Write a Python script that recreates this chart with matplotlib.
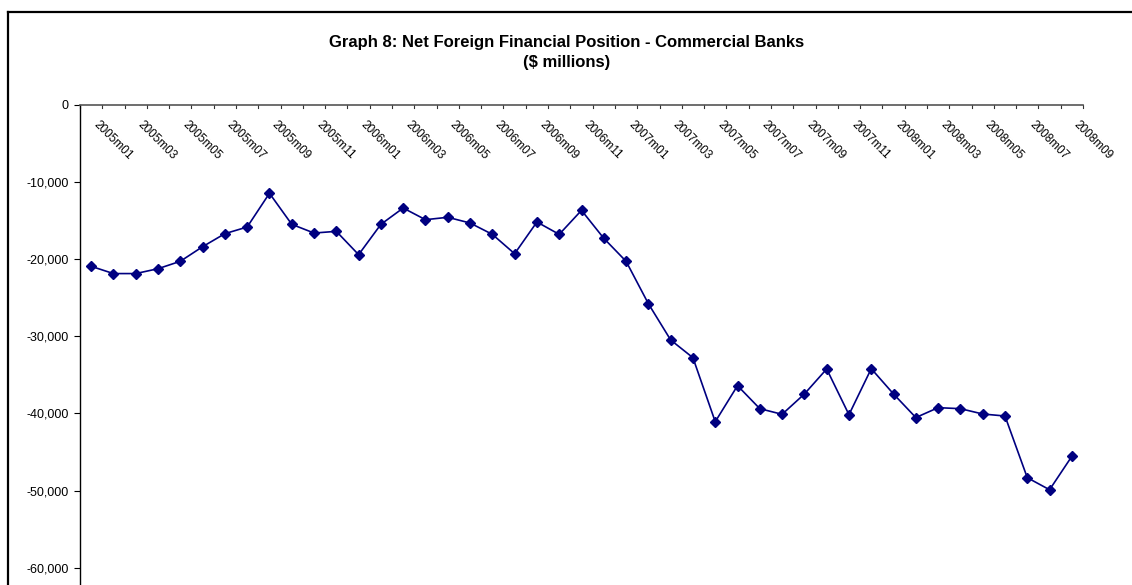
import matplotlib
matplotlib.use("Agg")
import matplotlib.pyplot as plt
from matplotlib.lines import Line2D
from matplotlib.ticker import FixedLocator, FuncFormatter

plt.rcParams['font.family'] = ['Liberation Sans', 'DejaVu Sans']

# monthly periods 2005m01 .. 2008m09
years = [2005, 2006, 2007, 2008]
months = [f"{y}m{m:02d}" for y in years for m in range(1, 13)][:45]

# net foreign financial position of commercial banks, $ millions
position = [
    -20960, -21900, -21900, -21270, -20310, -18420, -16730, -15870, -11500, -15520,
    -16650, -16430, -19450, -15520, -13410, -14920, -14610, -15350, -16820, -19330,
    -15220, -16820, -13710, -17330, -20310, -25800, -30500, -32800, -41090, -36420,
    -39400, -40130, -37500, -34260, -40180, -34220, -37500, -40550, -39270, -39400,
    -40090, -40350, -48340, -49900, -45570,
]
yticks = [0, -10000, -20000, -30000, -40000, -50000, -60000]

W, H = 1132, 585
fig = plt.figure(figsize=(W / 100, H / 100), dpi=100)

# outer chart frame (left and top edges visible)
fig.add_artist(Line2D([8 / W, 8 / W], [0, 1 - 12 / H], color='black', lw=1.6,
                      transform=fig.transFigure))
fig.add_artist(Line2D([8 / W, 1], [1 - 12 / H, 1 - 12 / H], color='black', lw=1.6,
                      transform=fig.transFigure))

fig.text(567 / W, 1 - 42 / H, "Graph 8: Net Foreign Financial Position - Commercial Banks",
         ha='center', va='center', fontsize=12, fontweight='bold')
fig.text(567 / W, 1 - 62 / H, "($ millions)",
         ha='center', va='center', fontsize=12, fontweight='bold')

ax = fig.add_axes([80 / W, 0, (1083 - 80) / W, 1 - 104.5 / H])
x = list(range(len(months)))
ax.plot(x, position, color='#000080', lw=1.2, marker='D', markersize=5.5,
        markerfacecolor='#000080', markeredgecolor='#000080')

ax.set_xlim(-0.5, len(months) - 0.5)
ax.set_ylim(-62240, 0)

for s in ['right', 'bottom']:
    ax.spines[s].set_visible(False)
ax.spines['top'].set_color('#555555')
ax.spines['top'].set_linewidth(1.2)
ax.spines['left'].set_color('black')
ax.spines['left'].set_linewidth(1.0)

ax.set_yticks(yticks)
ax.yaxis.set_major_formatter(FuncFormatter(lambda v, p: f"{int(v):,}"))
ax.tick_params(axis='y', direction='out', length=4, labelsize=9, pad=4)

# category ticks sit between months, labels on odd months hang below the top axis
ax.xaxis.set_major_locator(FixedLocator([i - 0.5 for i in range(len(months) + 1)]))
ax.tick_params(axis='x', top=False, bottom=False, labeltop=False, labelbottom=False)
for i in range(len(months) + 1):
    ax.plot([i - 0.5, i - 0.5], [0, -420], color='#333333', lw=0.8, clip_on=False)
for i in range(0, len(months), 2):
    ax.annotate(months[i], xy=(i, 0), xytext=(3, -13), textcoords='offset points',
                rotation=-45, rotation_mode='anchor', ha='left', va='center',
                fontsize=8.5)

fig.savefig("out.png", dpi=100)
